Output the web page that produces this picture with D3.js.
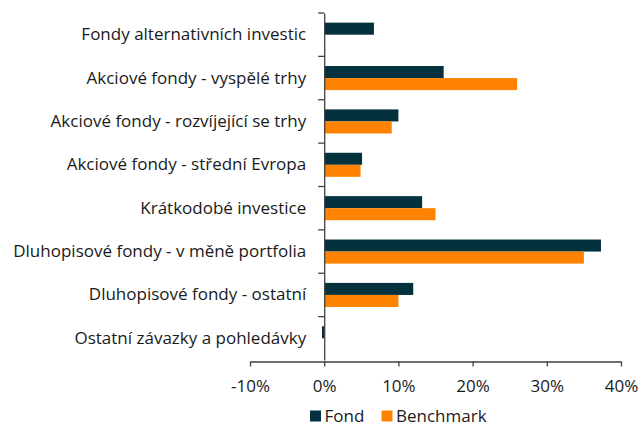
<!DOCTYPE html>
<html><head><meta charset="utf-8">
<script src="https://cdnjs.cloudflare.com/ajax/libs/d3/7.8.5/d3.min.js"></script>
<style>body{margin:0;background:#fff}svg{display:block}text{font-family:"Open Sans",sans-serif}</style>
</head><body><svg id="c" width="640" height="426"></svg>
<script>
const categories = ["Fondy alternativních investic","Akciové fondy - vyspělé trhy","Akciové fondy - rozvíjející se trhy","Akciové fondy - střední Evropa","Krátkodobé investice","Dluhopisové fondy - v měně portfolia","Dluhopisové fondy - ostatní","Ostatní závazky a pohledávky"];
const fond = [6.7, 16.1, 10.0, 5.1, 13.2, 37.3, 12.0, -0.3];
const benchmark = [0, 26.0, 9.1, 4.9, 15.0, 35.0, 10.0, 0];
const xTicks = [-10, 0, 10, 20, 30, 40];
const seriesNames = ["Fond","Benchmark"];
const colors = ["#03313d","#ff8300"];

const svg = d3.select("#c");
const x = d3.scaleLinear().domain([-10,40]).range([250,621]);
const y = d3.scaleBand().domain(categories).range([13,360]).paddingInner(0).paddingOuter(0);
const sub = d3.scaleBand().domain([0,1]).range([0,y.bandwidth()]).paddingInner(0).paddingOuter(0.8);

const data = categories.map((c,i)=>({c, v:[fond[i], benchmark[i]]}));
const g = svg.append("g");
data.forEach(d=>{
  d.v.forEach((v,k)=>{
    if (k===1 && v===0) return;
    g.append("rect")
      .attr("x", x(Math.min(0,v)))
      .attr("y", y(d.c)+sub(k))
      .attr("width", Math.abs(x(v)-x(0)))
      .attr("height", sub.bandwidth())
      .attr("fill", colors[k]);
  });
});

// x axis
const xa = svg.append("g").attr("transform","translate(0,361.5)")
  .call(d3.axisBottom(x).tickValues(xTicks).tickSize(5).tickSizeOuter(0).tickPadding(13.5).tickFormat(d=>d+"%"));
xa.select(".domain").attr("stroke","#404040").attr("stroke-width",1.3);
xa.selectAll(".tick line").attr("stroke","#404040").attr("stroke-width",1.3);
xa.selectAll("text").attr("font-size",17).attr("fill","#1a1a1a").attr("font-family","'Open Sans',sans-serif");

// y axis
const ya = svg.append("g").attr("transform","translate("+x(0)+",0)")
  .call(d3.axisLeft(y).tickSize(0).tickPadding(18));
ya.select(".domain").attr("stroke","#404040").attr("stroke-width",1.3);
ya.selectAll("text").attr("font-size",17).attr("fill","#1a1a1a").attr("font-family","'Open Sans',sans-serif");
// category boundary ticks
const bounds = categories.map(c=>y(c));
svg.append("g").selectAll("line").data(bounds).join("line")
  .attr("x1", x(0)-6).attr("x2", x(0)).attr("y1", d=>d).attr("y2", d=>d)
  .attr("stroke","#404040").attr("stroke-width",1.3);

// legend
const leg = svg.append("g");
const lx = [310, 381.5];
seriesNames.forEach((n,i)=>{
  leg.append("rect").attr("x",lx[i]).attr("y",410.5).attr("width",11).attr("height",11).attr("fill",colors[i]);
  leg.append("text").attr("x",lx[i]+14.5).attr("y",421.5).attr("font-size",17).attr("fill","#1a1a1a").text(n);
});
</script></body></html>
